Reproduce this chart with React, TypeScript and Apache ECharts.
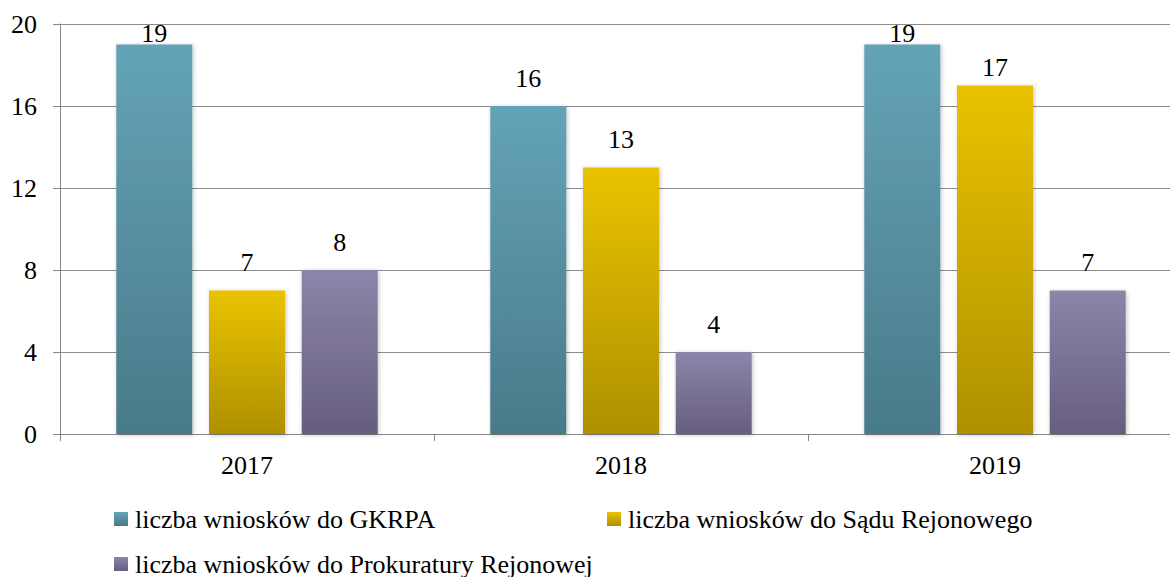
import React, { useEffect, useRef } from "react";
import * as echarts from "echarts";

const categories = ["2017", "2018", "2019"];
const seriesNames = [
  "liczba wniosków do GKRPA",
  "liczba wniosków do Sądu Rejonowego",
  "liczba wniosków do Prokuratury Rejonowej",
];
const gkrpa = [19, 16, 19];
const sad = [7, 13, 17];
const prokuratura = [8, 4, 7];
const yTicks = { min: 0, max: 20, interval: 4 };

// label offsets above each bar (style only), as placed in the reference
const labelDistance = [
  [-2, 15, -2],
  [15, 15, 5],
  [15, 15, 15],
];

const FONT = "Liberation Serif";

const grad = (top: string, bottom: string) =>
  new echarts.graphic.LinearGradient(0, 0, 0, 1, [
    { offset: 0, color: top },
    { offset: 1, color: bottom },
  ]);

export default function App() {
  const ref = useRef<HTMLDivElement>(null);
  useEffect(() => {
    if (!ref.current) return;
    const chart = echarts.init(ref.current, undefined, { renderer: "svg" });
    const colors = [
      grad("#64A3B7", "#497A89"),
      grad("#E9C300", "#AE9000"),
      grad("#8C85A9", "#665E7E"),
    ];
    const data = [gkrpa, sad, prokuratura];
    const legendPos = [
      { left: 114, top: 506 },
      { left: 607, top: 506 },
      { left: 114, top: 551 },
    ];
    chart.setOption({
      animation: false,
      textStyle: { fontFamily: FONT },
      grid: { left: 60, right: 8, top: 24, bottom: 143, containLabel: false },
      legend: seriesNames.map((n, i) => ({
        data: [n],
        left: legendPos[i].left,
        top: legendPos[i].top,
        padding: 0,
        itemWidth: 14,
        itemHeight: 14,
        itemGap: 0,
        icon: "rect",
        textStyle: { fontFamily: FONT, fontSize: 26, color: "#000", padding: [0, 0, 0, 2] },
      })),
      xAxis: {
        type: "category",
        data: categories,
        axisLine: { show: true, lineStyle: { color: "#868686", width: 1 } },
        axisTick: { show: true, length: 7, lineStyle: { color: "#868686" } },
        axisLabel: { fontFamily: FONT, fontSize: 26, color: "#000", margin: 18 },
      },
      yAxis: {
        type: "value",
        min: yTicks.min,
        max: yTicks.max,
        interval: yTicks.interval,
        axisLine: { show: true, lineStyle: { color: "#868686", width: 1 } },
        axisTick: { show: true, length: 7, lineStyle: { color: "#868686" } },
        axisLabel: { fontFamily: FONT, fontSize: 26, color: "#000", margin: 23 },
        splitLine: { show: true, lineStyle: { color: "#8C8C8C", width: 1 } },
      },
      series: seriesNames.map((n, i) => ({
        name: n,
        type: "bar",
        data: data[i].map((v, j) => ({ value: v, label: { distance: labelDistance[i][j] } })),
        barWidth: 76,
        barGap: "22%",
        itemStyle: {
          color: colors[i],
          shadowBlur: 4,
          shadowColor: "rgba(0,0,0,0.25)",
          shadowOffsetX: 1,
          shadowOffsetY: 1,
        },
        label: {
          show: true,
          position: "top",
          fontFamily: FONT,
          fontSize: 26,
          color: "#000",
        },
      })),
    });
    return () => chart.dispose();
  }, []);
  return (
    <div style={{ position: "fixed", left: 0, top: 0, width: 1170, height: 577, overflow: "hidden", background: "#fff" }}>
      <div ref={ref} style={{ width: 1190, height: 577 }} />
    </div>
  );
}
